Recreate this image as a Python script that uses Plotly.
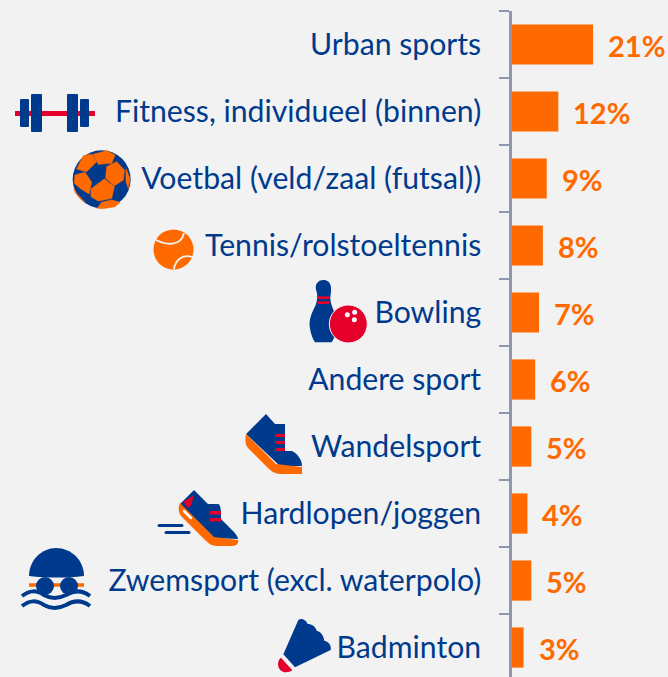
import plotly.graph_objects as go
import base64

categories = ["Urban sports", "Fitness, individueel (binnen)", "Voetbal (veld/zaal (futsal))",
              "Tennis/rolstoeltennis", "Bowling", "Andere sport", "Wandelsport",
              "Hardlopen/joggen", "Zwemsport (excl. waterpolo)", "Badminton"]
values = [21, 12, 9, 8, 7, 6, 5, 4, 5, 3]
value_labels = ["21%", "12%", "9%", "8%", "7%", "6%", "5%", "4%", "5%", "3%"]

BLUE = "#003a8c"
ORANGE = "#ff6a00"
RED = "#e4002b"
BG = "#f2f2f2"
W, H = 668, 677
LEFT, TOP = 512, 11

fig = go.Figure(go.Bar(x=values, y=categories, orientation="h", marker=dict(color=ORANGE, line_width=0),
                       width=0.6, hoverinfo="skip"))
for c, v, t in zip(categories, values, value_labels):
    fig.add_annotation(x=v, y=c, text=t, showarrow=False, xanchor="left", xshift=13, yshift=-1,
                       font=dict(family="Lato", size=29, color=ORANGE, weight="bold"))

icons_svg = f'''
<g id="dumbbell">
<rect x="15" y="111" width="80" height="5" fill="{RED}"/>
<rect x="20" y="99" width="9" height="28" rx="1" fill="{BLUE}"/><rect x="31" y="94" width="11" height="38" rx="1" fill="{BLUE}"/>
<rect x="67" y="94" width="11" height="38" rx="1" fill="{BLUE}"/><rect x="80" y="99" width="9" height="28" rx="1" fill="{BLUE}"/>
</g>
<g id="ball" transform="translate(65 145) scale(0.3333)">
<circle cx="110" cy="103" r="87" fill="{BLUE}"/>
<g fill="{ORANGE}" stroke="{ORANGE}" stroke-width="2" stroke-linejoin="round">
<polygon points="85,28 125,17 150,30 140,55 100,58"/>
<polygon points="125,65 155,50 178,75 175,105 148,122 122,100"/>
<polygon points="35,72 55,32 82,28 95,50 65,80"/>
<polygon points="30,90 60,82 80,112 72,147 45,130 28,115"/>
<polygon points="78,132 118,102 148,125 140,160 100,168 78,155"/>
<polygon points="97,190 110,172 140,165 165,172 150,185 120,190"/>
<polygon points="183,72 195,100 190,130 183,110"/>
<polygon points="27,130 35,145 60,172 45,160 32,145"/>
</g>
</g>
<g id="tennis">
<circle cx="173.5" cy="249.5" r="20" fill="{ORANGE}"/>
<path d="M156 240 C166 245 181 247 184 233" fill="none" stroke="{BG}" stroke-width="1.8"/>
<path d="M174 269 C175 260 183 254 192 257" fill="none" stroke="{BG}" stroke-width="1.8"/>
</g>
<g id="bowling" transform="translate(295 270) scale(0.3333)">
<path d="M85 30 C68 30 58 45 64 62 C68 75 68 85 62 105 C50 130 40 150 45 175 C48 195 55 210 60 217 L110 217 C122 200 128 175 125 150 C118 120 104 100 106 80 C110 60 112 30 85 30Z" fill="{BLUE}"/>
<rect x="67" y="79" width="36" height="8" fill="{RED}"/><rect x="67" y="94" width="36" height="8" fill="{RED}"/>
<circle cx="160" cy="162" r="57" fill="{RED}" stroke="{BG}" stroke-width="3"/>
<circle cx="157" cy="134" r="7.5" fill="#fff"/><circle cx="179" cy="127" r="7.5" fill="#fff"/><circle cx="178" cy="149" r="7.5" fill="#fff"/>
</g>
<g id="walk">
<path d="M246 434 L266 414 L275 424 L285 424 L285 451 L292 451 C298 454 302 460 302 466 L280 466 Z" fill="{BLUE}"/>
<path d="M246 434 L276 464 L302 467 L302 474 L280 474 C274 474 270 470 267 467 L248 448 C245 445 245 438 246 434Z" fill="{ORANGE}"/>
<rect x="275" y="434" width="10" height="3" fill="{RED}"/><rect x="275" y="441" width="10" height="3" fill="{RED}"/><rect x="275" y="448" width="10" height="3" fill="{RED}"/>
</g>
<g id="run">
<path d="M180 504 L194 490 L208 504 L218 504 C221 504 221 512 221 519 L232 530 C236 534 238 537 238 539 L214 538Z" fill="{BLUE}"/>
<path d="M183 502 L194 495 C192 500 193 505 188 508Z" fill="{RED}"/>
<path d="M180 503 L214 537 L238 540 C239 545 235 546 231 546 L217 546 C212 546 208 543 205 540 L182 517 C178 513 178 507 180 503Z" fill="{ORANGE}"/>
<path d="M184 511 L191 518" stroke="#fff" stroke-width="2.5" stroke-linecap="round" fill="none"/>
<rect x="210" y="511" width="11" height="3.5" fill="{RED}"/><rect x="210" y="518" width="11" height="3.5" fill="{RED}"/>
<path d="M159 525.5 H182 M166 532.5 H189" stroke="{BLUE}" stroke-width="3" stroke-linecap="round"/>
</g>
<g id="swim">
<path d="M29 576 C29 560 42 548 56 548 C71 548 84 560 84 576 C66 578 47 578 29 576Z" fill="{BLUE}"/>
<path d="M29 585 H84" stroke="{ORANGE}" stroke-width="3.5"/>
<circle cx="45" cy="586" r="9" fill="{BLUE}"/><circle cx="69" cy="586" r="9" fill="{BLUE}"/>
<path d="M22 596 C30 590 36 590 44 595 C51 599 58 599 66 595 C74 590 82 590 90 596" fill="none" stroke="{BLUE}" stroke-width="4"/>
<path d="M22 606 C30 600 36 600 44 605 C51 609 58 609 66 605 C74 600 82 600 90 606" fill="none" stroke="{BLUE}" stroke-width="4"/>
</g>
<g id="shuttle" transform="translate(265 610) scale(0.3333)">
<path d="M100 30 C108 24 122 28 128 42 C140 42 152 50 155 62 C168 64 176 78 178 92 C192 94 200 108 197 120 L90 172 L55 133Z" fill="{BLUE}"/>
<path d="M48 143 L82 181 C72 188 55 190 46 180 C37 170 36 153 48 143Z" fill="{RED}"/>
</g>
'''
svg = f'<svg xmlns="http://www.w3.org/2000/svg" width="{W}" height="{H}" viewBox="0 0 {W} {H}">{icons_svg}</svg>'
uri = "data:image/svg+xml;base64," + base64.b64encode(svg.encode()).decode()
pw, ph = W - LEFT, H - TOP
fig.add_layout_image(source=uri, xref="paper", yref="paper", x=-LEFT / pw, y=1 + TOP / ph,
                     sizex=W / pw, sizey=H / ph, xanchor="left", yanchor="top", sizing="stretch", layer="above")

fig.update_layout(
    width=W, height=H, margin=dict(l=LEFT, r=0, t=TOP, b=0), paper_bgcolor=BG, plot_bgcolor=BG,
    showlegend=False, bargap=0.4,
    xaxis=dict(range=[0, 156 / 3.86], visible=False, fixedrange=True),
    yaxis=dict(type="category", categoryorder="array", categoryarray=categories,
               range=[9.44, -0.5], automargin=False, showgrid=False, zeroline=False,
               showline=True, linecolor="#8e97ae", linewidth=2.5,
               ticks="outside", tickson="boundaries", ticklen=10, tickwidth=2, tickcolor="#8e97ae",
               ticklabelstandoff=22, ticklabelposition="outside",
               tickfont=dict(family="Lato", size=30.2, color=BLUE), fixedrange=True),
)
fig.write_html("out.html", config=dict(displayModeBar=False),
               post_script="document.documentElement.style.background='#f2f2f2';document.body.style.margin='0';document.body.style.overflow='hidden';")
